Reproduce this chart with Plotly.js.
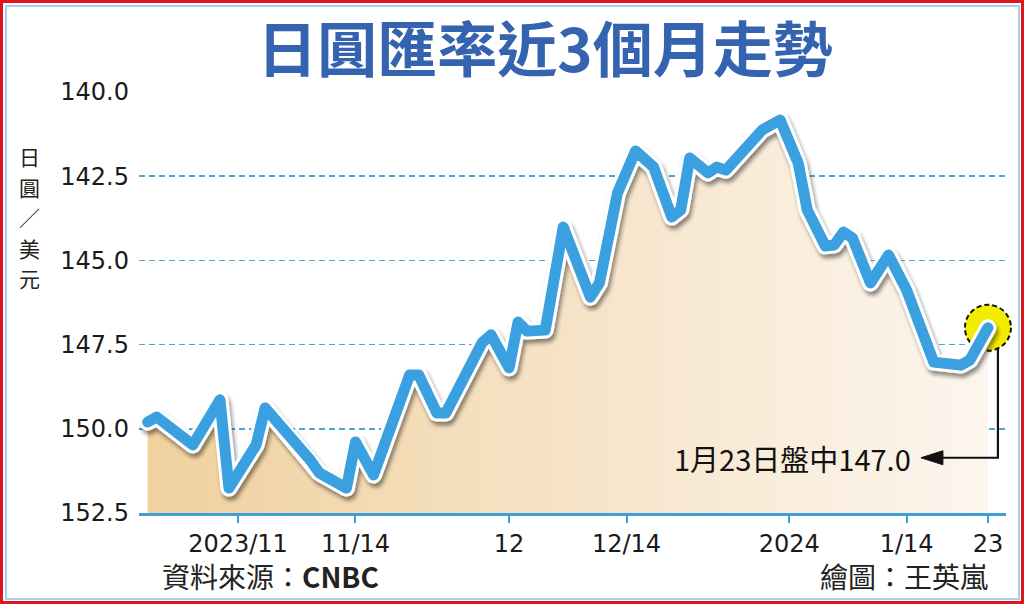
<!DOCTYPE html>
<html>
<head>
<meta charset="utf-8">
<script src="https://cdn.plot.ly/plotly-3.0.1.min.js"></script>
<style>
  html, body { margin:0; padding:0; background:#fff; }
  #wrap { position:relative; width:1024px; height:604px; overflow:hidden; }
  #chart { position:absolute; left:0; top:0; width:1024px; height:604px; }
  .frame-red { position:absolute; left:0; top:0; width:1024px; height:604px; box-sizing:border-box; border:3px solid #e3151c; pointer-events:none; }
  .frame-blue { position:absolute; left:5px; top:5px; right:4px; bottom:4px; border:2px solid #a9cdf0; pointer-events:none; }
</style>
</head>
<body>
<div id="wrap">
  <div id="chart"></div>
  <div class="frame-blue"></div>
  <div class="frame-red"></div>
</div>
<script>
// ---- data ----
const dates = [
  '2023-10-22','2023-10-23','2023-10-27','2023-10-30','2023-10-31',
  '2023-11-02','2023-11-03','2023-11-04','2023-11-06','2023-11-07',
  '2023-11-09','2023-11-10','2023-11-13','2023-11-14','2023-11-16',
  '2023-11-20','2023-11-21','2023-11-23','2023-11-24','2023-11-28',
  '2023-11-29','2023-12-01','2023-12-02','2023-12-03','2023-12-05',
  '2023-12-07','2023-12-10','2023-12-11','2023-12-13','2023-12-15',
  '2023-12-17','2023-12-19','2023-12-20','2023-12-21','2023-12-23',
  '2023-12-24','2023-12-25','2023-12-28','2023-12-29','2023-12-31',
  '2024-01-02','2024-01-03','2024-01-05','2024-01-06','2024-01-07',
  '2024-01-08','2024-01-10','2024-01-12','2024-01-14','2024-01-17',
  '2024-01-20','2024-01-21','2024-01-23'
];
const jpyPerUsd = [
  149.80,149.65,150.48,149.14,151.76,
  150.87,150.48,149.38,149.98,150.33,
  150.93,151.31,151.76,150.39,151.37,
  148.40,148.40,149.53,149.53,147.45,
  147.21,148.19,146.83,147.10,147.07,
  144.01,146.09,145.67,143.00,141.75,
  142.23,143.71,143.50,141.96,142.40,
  142.23,142.32,141.43,141.13,140.83,
  142.11,143.50,144.57,144.54,144.16,
  144.33,145.67,144.84,145.88,148.02,
  148.11,147.96,147.00
];
const xTickVals  = ['2023-11-01','2023-11-14','2023-12-01','2023-12-14','2024-01-01','2024-01-14','2024-01-23'];
const xTickText  = ['2023/11','11/14','12','12/14','2024','1/14','23'];
const yTickVals  = [140, 142.5, 145, 147.5, 150, 152.5];
const yTickText  = ['140.0','142.5','145.0','147.5','150.0','152.5'];
const yTop = 140, yBottom = 152.5;
const xRange = ['2023-10-21 01:00','2024-01-25 00:00'];

const titleText = '日圓匯率近3個月走勢';
const yTitleText = '日圓／美元';
const sourceText = '資料來源：<b>CNBC</b>';
const creditText = '繪圖：王英嵐';
const lastDate = dates[dates.length-1];
const lastVal = jpyPerUsd[jpyPerUsd.length-1];
const noteText = '1月23日盤中' + lastVal.toFixed(1);

// ---- layout geometry ----
const W = 1024, H = 604, ML = 139, MR = 18, MT = 92, MB = 91;
const PW = W - ML - MR, PH = H - MT - MB;
const px2paperX = px => (px - ML) / PW;
const px2paperY = py => (H - MB - py) / PH;

const cjk = 'Noto Sans CJK TC';
const blue = '#3aa0e0';

const traces = [
  { x:[dates[0], lastDate], y:[yBottom, yBottom], mode:'lines', line:{width:0}, hoverinfo:'skip' },
  { x:dates, y:jpyPerUsd, mode:'lines', line:{width:0}, fill:'tonexty',
    fillgradient:{type:'horizontal', colorscale:[[0,'#f0d19e'],[0.5,'#f6e3c7'],[1,'#fcf6ee']]},
    hoverinfo:'skip' },
  { x:[lastDate], y:[lastVal], mode:'markers', cliponaxis:false,
    marker:{size:46, color:'#f2ec00', line:{color:'#111', width:2}}, hoverinfo:'skip' },
  { x:dates, y:jpyPerUsd, mode:'lines', cliponaxis:false, line:{color:'#ffffff', width:17}, hoverinfo:'skip' },
  { x:dates, y:jpyPerUsd, mode:'lines', cliponaxis:false, line:{color:blue, width:11}, hoverinfo:'skip' }
];

const annotations = [];
Array.from(yTitleText).forEach((ch, i) => {
  annotations.push({ xref:'paper', yref:'paper', x:px2paperX(29), y:px2paperY(156 + i*30.5),
    text:ch, showarrow:false, xanchor:'center', yanchor:'middle',
    font:{family:cjk, size:21, color:'#222'} });
});
annotations.push({ xref:'paper', yref:'paper', x:px2paperX(160), y:px2paperY(576),
  text:sourceText, showarrow:false, xanchor:'left', yanchor:'middle',
  font:{family:cjk, size:28, color:'#222'} });
annotations.push({ xref:'paper', yref:'paper', x:px2paperX(990), y:px2paperY(576),
  text:creditText, showarrow:false, xanchor:'right', yanchor:'middle',
  font:{family:cjk, size:28, color:'#222'} });
// callout text
annotations.push({ xref:'x', yref:'y', x:lastDate, y:lastVal, xshift:-75, yshift:-130,
  text:noteText, showarrow:false, xanchor:'right', yanchor:'middle',
  font:{family:cjk, size:29, color:'#111'} });

// elbow leader + arrowhead, anchored on the last data point (pixel offsets)
const shapes = [
  { type:'path', xref:'x', yref:'y', xsizemode:'pixel', ysizemode:'pixel',
    xanchor:lastDate, yanchor:lastVal,
    path:'M 10 -20 L 10 -130 L -50 -130', line:{color:'#111', width:2.2} },
  { type:'path', xref:'x', yref:'y', xsizemode:'pixel', ysizemode:'pixel',
    xanchor:lastDate, yanchor:lastVal,
    path:'M -67 -130 L -45 -123 L -45 -137 Z', fillcolor:'#111', line:{color:'#111', width:1} }
];

const layout = {
  width:W, height:H,
  margin:{l:ML, r:MR, t:MT, b:MB, pad:0},
  paper_bgcolor:'rgba(0,0,0,0)', plot_bgcolor:'rgba(0,0,0,0)',
  showlegend:false,
  title:{ text:titleText, xref:'container', yref:'container', x:545/W, xanchor:'center',
          y:1 - 51/H, yanchor:'middle',
          font:{family:cjk, size:60, color:'#3464b0', weight:'bold'} },
  xaxis:{ type:'date', range:xRange, tickmode:'array', tickvals:xTickVals, ticktext:xTickText,
          ticks:'outside', ticklen:7, tickwidth:2, tickcolor:'#3d9fd9',
          showline:true, linecolor:'#3d9fd9', linewidth:3, showgrid:false, zeroline:false,
          tickfont:{family:'DejaVu Sans', size:24, color:'#1a1a1a'} },
  yaxis:{ range:[yBottom, yTop], tickmode:'array', tickvals:yTickVals, ticktext:yTickText,
          showgrid:true, gridcolor:'#4aa6d6', gridwidth:1.5, griddash:'6px,4px',
          zeroline:false, showline:false, ticks:'', ticklabelstandoff:9,
          tickfont:{family:'DejaVu Sans', size:24, color:'#1a1a1a'} },
  annotations:annotations,
  shapes:shapes
};

Plotly.newPlot('chart', traces, layout, {staticPlot:true, displayModeBar:false}).then(gd => {
  const ns = 'http://www.w3.org/2000/svg';
  const svg = gd.querySelector('.main-svg');
  let defs = svg.querySelector('defs');
  if (!defs) { defs = document.createElementNS(ns, 'defs'); svg.insertBefore(defs, svg.firstChild); }
  const f = document.createElementNS(ns, 'filter');
  f.setAttribute('id', 'lineShadow');
  f.setAttribute('x', '-10%'); f.setAttribute('y', '-20%');
  f.setAttribute('width', '130%'); f.setAttribute('height', '150%');
  f.innerHTML = '<feGaussianBlur in="SourceAlpha" stdDeviation="2.2"/>' +
    '<feOffset dx="2" dy="4" result="o"/>' +
    '<feComponentTransfer><feFuncA type="linear" slope="0.45"/></feComponentTransfer>' +
    '<feMerge><feMergeNode/><feMergeNode in="SourceGraphic"/></feMerge>';
  defs.appendChild(f);
  const tr = gd.querySelectorAll('.scatterlayer .trace');
  [3, 4].forEach(i => {
    const p = tr[i] && tr[i].querySelector('path.js-line');
    if (p) { p.style.strokeLinejoin = 'round'; p.style.strokeLinecap = 'round'; }
  });
  const w = tr[3] && tr[3].querySelector('path.js-line');
  if (w) w.setAttribute('filter', 'url(#lineShadow)');
  const m = tr[2] && tr[2].querySelector('path.point');
  if (m) m.style.strokeDasharray = '5 3';
});
</script>
</body>
</html>
